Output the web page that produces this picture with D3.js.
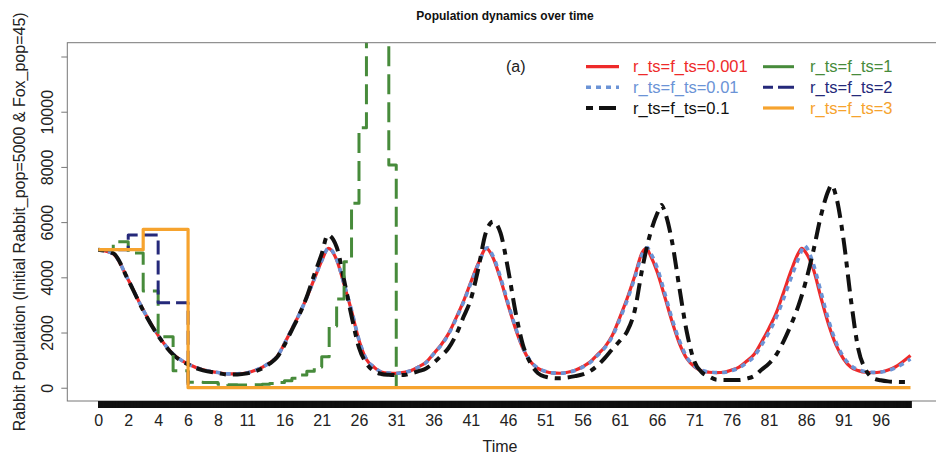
<!DOCTYPE html>
<html>
<head>
<meta charset="utf-8">
<script src="https://cdn.jsdelivr.net/npm/d3@7"></script>
<style>
  body { margin: 0; background: #fff; }
  text { font-family: "Liberation Sans", Arial, sans-serif; }
</style>
</head>
<body>
<script>
const width = 936;
const height = 461;

// ---- data ----
const xLabels = [0, 2, 4, 6, 8, 11, 16, 21, 26, 31, 36, 41, 46, 51, 56, 61, 66, 71, 76, 81, 86, 91, 96];
const yTicks = [0, 2000, 4000, 6000, 8000, 10000, 12000];

// r_ts=f_ts=0.001
const redT = [0,1,2,3,4,5,6,7,8,9,10,11,12,13,14,15,16,17,18,19,20,21,21.9,
  23,24,25,26,27,28,29,30,31,32,33,34,35,36,37,38,39,40,41,42,43.1,
  44,45,46,47,48,49,50,51,52,53,54,55,56,57,58,59,60,61,62,63,64,64.6,
  65,66,67,68,69,70,71,72,73,74,75,76,77,78,79,80,81,82,83,84,85,85.4,
  86,87,88,89,90,91,92,93,94,95,96,97,98,99,100];
const redV = [5000,4850,3910,2815,1900,1220,860,650,550,500,505,543,620,740,900,1120,1600,2130,2670,3270,3940,4600,5050,
  4630,3740,2780,1720,1020,750,570,530,522,560,620,760,920,1230,1550,1950,2510,3120,3820,4500,5050,
  4700,3920,3000,2140,1420,950,700,590,535,525,560,630,760,930,1200,1480,1900,2550,3250,4050,4900,5050,
  4850,4200,3320,2400,1600,1050,760,610,560,545,560,640,750,960,1200,1650,2150,2720,3480,4250,4900,5050,
  4880,4264,3250,2300,1550,1050,740,620,560,550,570,640,760,950,1170];

// r_ts=f_ts=0.01
const blueT = [0,1,2,3,4,5,6,7,8,9,10,11,12,13,14,15,16,17,18,19,20,21,21.9,
  23,24,25,26,27,28,29,30,31,32,33,34,35,36,37,38,39,40,41,42,43.2,
  44,45,46,47,48,49,50,51,52,53,54,55,56,57,58,59,60,61,62,63,64,64.7,
  65,66,67,68,69,70,71,72,73,74,75,76,77,78,79,80,81,82,83,84,85,85.8,
  86,87,88,89,90,91,92,93,94,95,96,97,98,99,100];
const blueV = [5000,4850,3910,2815,1900,1220,860,650,550,500,505,543,620,740,900,1120,1600,2130,2670,3270,3940,4600,5060,
  4650,3760,2800,1740,1030,755,572,530,522,558,615,750,910,1215,1530,1930,2480,3080,3780,4460,5070,
  4760,3990,3060,2190,1450,970,710,595,537,525,556,622,745,910,1170,1450,1860,2490,3180,3980,4830,5080,
  4950,4350,3450,2500,1700,1100,790,630,570,550,555,620,720,900,1130,1540,2000,2550,3250,4000,4700,5150,
  5100,4450,3450,2450,1650,1120,800,650,580,555,565,620,720,870,1040];

// r_ts=f_ts=0.1
const blackT = [0,1,2,3,4,5,6,7,8,9,10,11,12,13,14,15,16,17,18,19,20,21,21.8,
  23,24,25,26,27,28,29,30,31,32,33,34,35,36,37,38,39,40,41,42,43,44,
  45,46,47,48,49,50,51,52,53,54,55,56,57,58,59,60,61,62,63,64,65,66,66.6,
  67,68,69,70,71,72,73,74,75,76,77,78,79,80,81,82,83,84,85,86,87,88,89,89.4,
  90,91,92,93,94,95,96,97,98,99,100];
const blackV = [5000,4870,3900,2800,1880,1200,840,630,530,480,480,520,590,700,870,1100,1550,2100,2650,3300,4100,4850,5530,
  5100,3900,2600,1450,880,600,500,470,460,460,520,600,700,900,1150,1430,1900,2550,3200,4300,5600,6015,
  5600,4300,2750,1550,900,530,400,350,340,370,420,480,600,800,1080,1400,1700,2050,2800,4300,5500,6300,6620,
  6400,5300,3600,2000,950,560,400,290,280,280,280,330,420,650,870,1200,1700,2300,3000,3900,5000,6250,7150,7344,
  6950,5400,3200,1400,650,340,270,230,215,210,210];

// r_ts=f_ts=1 (steps)
const greenT = [0,1,2,3,4,5,6,7,8,9,10,11,12,13,14,15,16,17,18,19,20,21,22,23,24,25,26,27,28,29,30,31];
const greenV = [5000,5290,4880,3500,1850,616,200,190,130,110,100,100,110,125,150,190,250,340,460,600,750,1120,
  2235,3210,4565,6680,9420,14000,17000,15000,8070,0];

// r_ts=f_ts=2 (steps)
const navyT = [0, 2, 4, 6];
const navyV = [5000, 5530, 3080, 0];

// r_ts=f_ts=3 (steps)
const orangeT = [0, 3, 6, 100];
const orangeV = [5000, 5740, 0, 0];

const legendLabels = ["r_ts=f_ts=0.001", "r_ts=f_ts=0.01", "r_ts=f_ts=0.1", "r_ts=f_ts=1", "r_ts=f_ts=2", "r_ts=f_ts=3"];

// ---- styles ----
const colors = ["#ee2a2a", "#6b93d6", "#111111", "#478b3b", "#25297a", "#f6a32e"];
const widths = [3.2, 3.6, 4, 3, 3, 3.2];
const dashes = [null, "5,5", "6,7,17,7", "20,8", "14,6", null];

const box = { left: 67.3, right: 944, top: 42.7, bottom: 401 };

const svg = d3.select("body")
  .append("svg")
  .attr("width", width)
  .attr("height", height);

svg.append("rect").attr("width", width).attr("height", height).attr("fill", "#fff");

// time axis is stretched at the start (breakpoints of the original axis)
const x = d3.scaleLinear()
  .domain([0, 8, 11, 100])
  .range([98.3, 218, 247.2, 910.5]);

const y = d3.scaleLinear()
  .domain([-481, 12500])
  .range([box.bottom, box.top]);

svg.append("clipPath").attr("id", "plotclip")
  .append("rect")
  .attr("x", box.left).attr("y", box.top)
  .attr("width", box.right - box.left).attr("height", box.bottom - box.top);

const plot = svg.append("g").attr("clip-path", "url(#plotclip)");

const zip = (ts, vs) => ts.map((t, i) => [t, vs[i]]);

const smooth = d3.line().x(d => x(d[0])).y(d => y(d[1])).curve(d3.curveMonotoneX);
const steps = d3.line().x(d => x(d[0])).y(d => y(d[1])).curve(d3.curveStepAfter);

const series = [
  { data: zip(redT, redV), gen: smooth },
  { data: zip(blueT, blueV), gen: smooth },
  { data: zip(blackT, blackV), gen: smooth },
  { data: zip(greenT, greenV), gen: steps },
  { data: zip(navyT, navyV), gen: steps },
  { data: zip(orangeT, orangeV), gen: steps }
];

series.forEach(function(s, i) {
  plot.append("path")
    .attr("d", s.gen(s.data))
    .attr("fill", "none")
    .attr("stroke", colors[i])
    .attr("stroke-width", widths[i])
    .attr("stroke-dasharray", dashes[i])
    .attr("stroke-linejoin", "round");
});

// box
svg.append("rect")
  .attr("x", box.left).attr("y", box.top)
  .attr("width", box.right - box.left).attr("height", box.bottom - box.top)
  .attr("fill", "none").attr("stroke", "#777").attr("stroke-width", 1);

// y axis
const yAxis = svg.append("g")
  .attr("transform", "translate(" + box.left + ",0)")
  .call(d3.axisLeft(y).tickValues(yTicks).tickSize(6).tickSizeOuter(0)
    .tickFormat(d => d === 12000 ? "" : d));
yAxis.select(".domain").remove();
yAxis.selectAll("line").attr("stroke", "#777");
yAxis.selectAll("text")
  .attr("transform", "rotate(-90)")
  .attr("x", 0).attr("y", -14.3).attr("dy", null)
  .attr("text-anchor", "middle")
  .attr("fill", "#222")
  .style("font-size", "16px");

// dense x ticks (one at every small time step) form the black bar
const denseTicks = d3.range(0, 2001).map(i => i / 20);
const xTickAxis = svg.append("g")
  .attr("transform", "translate(0," + box.bottom + ")")
  .call(d3.axisBottom(x).tickValues(denseTicks).tickSize(7).tickSizeOuter(0).tickFormat(""));
xTickAxis.select(".domain").remove();
xTickAxis.selectAll("line").attr("stroke", "#111").attr("stroke-width", 1.6);

const xLabelAxis = svg.append("g")
  .attr("transform", "translate(0," + box.bottom + ")")
  .call(d3.axisBottom(x).tickValues(xLabels).tickSize(0).tickPadding(14));
xLabelAxis.select(".domain").remove();
xLabelAxis.selectAll("text").attr("fill", "#222").style("font-size", "16px");

// titles
svg.append("text")
  .attr("x", 505).attr("y", 20)
  .attr("text-anchor", "middle")
  .style("font-size", "12px").style("font-weight", "bold")
  .attr("fill", "#111")
  .text("Population dynamics over time");

svg.append("text")
  .attr("x", 500).attr("y", 452)
  .attr("text-anchor", "middle")
  .style("font-size", "16px")
  .attr("fill", "#222")
  .text("Time");

svg.append("text")
  .attr("transform", "translate(25," + (box.top + box.bottom) / 2 + ") rotate(-90)")
  .attr("text-anchor", "middle")
  .style("font-size", "16px")
  .attr("fill", "#222")
  .text("Rabbit Population (Initial Rabbit_pop=5000 & Fox_pop=45)");

svg.append("text")
  .attr("x", 506).attr("y", 72)
  .style("font-size", "16px")
  .attr("fill", "#222")
  .text("(a)");

// legend
const legendCols = [{ x1: 586, x2: 619, tx: 633 }, { x1: 763, x2: 794, tx: 810 }];
const legendRows = [66.7, 87.3, 108];
const legendDash = [null, "5,5", "7,6,17,6", null, "10,5,17,5", null];
legendLabels.forEach(function(label, i) {
  const col = legendCols[Math.floor(i / 3)];
  const ly = legendRows[i % 3];
  svg.append("line")
    .attr("x1", col.x1).attr("x2", col.x2)
    .attr("y1", ly).attr("y2", ly)
    .attr("stroke", colors[i])
    .attr("stroke-width", widths[i])
    .attr("stroke-dasharray", legendDash[i]);
  svg.append("text")
    .attr("x", col.tx).attr("y", ly + 5.5)
    .style("font-size", "16.5px")
    .attr("fill", colors[i])
    .text(label);
});
</script>
</body>
</html>
